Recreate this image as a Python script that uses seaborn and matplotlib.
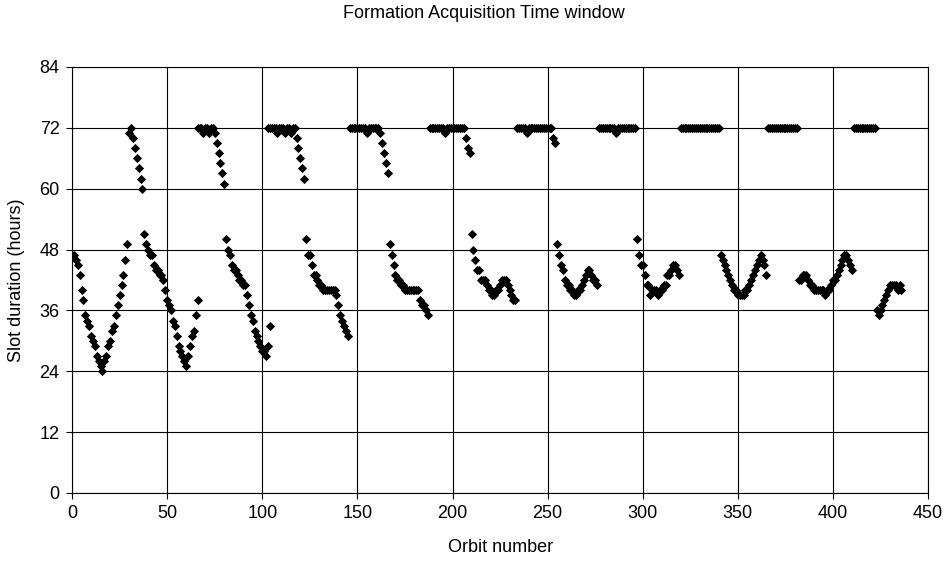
import numpy as np
import pandas as pd
import seaborn as sns
import matplotlib.pyplot as plt

# Slot duration (hours) per orbit in runs of consecutive orbits
low1_start, low1 = 1, [47, 46, 45, 43, 40, 38, 35, 34, 33, 31, 30, 29, 27, 26, 25, 24,
                       26, 27, 29, 30, 32, 33, 35, 37, 39, 41, 43, 46, 49]
up1_start, up1 = 30, [71, 72, 70, 68, 66, 64, 62, 60]
low2_start, low2 = 38, [51, 49, 48, 47, 47, 45, 44, 44, 43, 43, 42, 40, 38, 37, 36, 34,
                        33, 31, 29, 28, 27, 26, 25, 27, 29, 31, 32, 35, 38]
up2_start, up2 = 66, [72, 72, 72, 71, 72, 72, 71, 72, 72, 71, 69, 67, 65, 63, 61]
low3_start, low3 = 81, [50, 48, 47, 45, 44, 44, 43, 42, 42, 41, 41, 39, 37, 35, 34, 32,
                        31, 30, 29, 28, 28, 27, 29, 33]
up3_start, up3 = 103, [72, 72, 72, 72, 72, 71, 72, 72, 72, 71, 72, 72, 71, 72, 72,
                       70, 68, 66, 64, 62]
low4_start, low4 = 123, [50, 47, 47, 45, 43, 43, 42, 41, 41, 40, 40, 40, 40, 40, 40, 40,
                         39, 37, 35, 34, 33, 32, 31]
up4_start, up4 = 146, [72, 72, 72, 72, 72, 72, 72, 72, 72, 71, 72, 72, 72, 72, 72, 72,
                       71, 69, 67, 65, 63]
low5_start, low5 = 167, [49, 47, 45, 43, 42, 42, 41, 41, 40, 40, 40, 40, 40, 40, 40, 40,
                         38, 37, 37, 36, 35]
up5_start, up5 = 188, [72, 72, 72, 72, 72, 72, 72, 72, 71, 72, 72, 72, 72, 72, 72, 72,
                       72, 72, 72, 70, 68, 67]
low6_start, low6 = 210, [51, 48, 46, 44, 44, 42, 42, 42, 41, 40, 40, 39, 39, 40, 40, 41,
                         42, 42, 42, 41, 40, 39, 38, 38]
up6_start, up6 = 234, [72, 72, 72, 72, 72, 71, 72, 72, 72, 72, 72, 72, 72, 72, 72, 72,
                       72, 72, 72, 70, 69]
low7_start, low7 = 255, [49, 47, 45, 44, 42, 41, 41, 40, 40, 39, 39, 40, 40, 41, 42, 43,
                         44, 44, 43, 42, 42, 41]
up7_start, up7 = 277, [72, 72, 72, 72, 72, 72, 72, 72, 72, 71, 72, 72, 72, 72, 72, 72,
                       72, 72, 72, 72]
low8_start, low8 = 297, [50, 47, 45, 45, 43, 41, 41, 39, 40, 40, 40, 39, 40, 40, 41, 41,
                         43, 43, 44, 45, 45, 44, 43]
up8_start, up8 = 320, [72] * 21
low9_start, low9 = 341, [47, 46, 45, 44, 43, 42, 41, 40, 40, 39, 39, 39, 39, 40, 40, 41,
                         42, 43, 44, 45, 46, 47, 46, 45, 43]
up9_start, up9 = 366, [72] * 16
low10_start, low10 = 382, [42, 42, 43, 43, 43, 42, 41, 41, 40, 40, 40, 40, 40, 40, 39, 40,
                           40, 41, 42, 42, 43, 44, 45, 46, 47, 47, 46, 45, 44]
up10_start, up10 = 411, [72] * 12
low11_start, low11 = 423, [36, 35, 36, 37, 38, 39, 40, 41, 41, 41, 41, 40, 41, 40]

runs = [(low1_start, low1), (up1_start, up1), (low2_start, low2), (up2_start, up2),
        (low3_start, low3), (up3_start, up3), (low4_start, low4), (up4_start, up4),
        (low5_start, low5), (up5_start, up5), (low6_start, low6), (up6_start, up6),
        (low7_start, low7), (up7_start, up7), (low8_start, low8), (up8_start, up8),
        (low9_start, low9), (up9_start, up9), (low10_start, low10), (up10_start, up10),
        (low11_start, low11)]

frames = [pd.DataFrame({"orbit": start + np.arange(len(vals)), "hours": vals})
          for start, vals in runs]
df = pd.concat(frames, ignore_index=True)

sns.set_style("white")
plt.rcParams["font.family"] = ["Liberation Sans", "DejaVu Sans"]
plt.rcParams["text.color"] = "black"
plt.rcParams["axes.labelcolor"] = "black"
plt.rcParams["xtick.color"] = "black"
plt.rcParams["ytick.color"] = "black"

fig = plt.figure(figsize=(9.48, 5.62), dpi=100)
ax = fig.add_axes([0.076, 0.1228, 0.903, 0.758])

sns.scatterplot(data=df, x="orbit", y="hours", marker="D", color="black",
                s=22, linewidth=0, ax=ax)

ax.set_xlim(0, 450)
ax.set_ylim(0, 84)
ax.set_xticks(range(0, 451, 50))
ax.set_yticks(range(0, 85, 12))
ax.grid(True, color="black", linewidth=0.8)
ax.set_axisbelow(True)
for side in ax.spines.values():
    side.set_color("black")
    side.set_linewidth(0.8)
ax.tick_params(direction="out", length=4, width=0.8,
               labelsize=13, left=True, bottom=True, pad=5)

ax.set_xlabel("Orbit number", fontsize=13, labelpad=12)
ax.set_ylabel("Slot duration (hours)", fontsize=13, labelpad=10)
fig.text(0.51, 1 - 14 / 562, "Formation Acquisition Time window",
         ha="center", va="center", fontsize=13)

fig.savefig("out.png", dpi=100)
